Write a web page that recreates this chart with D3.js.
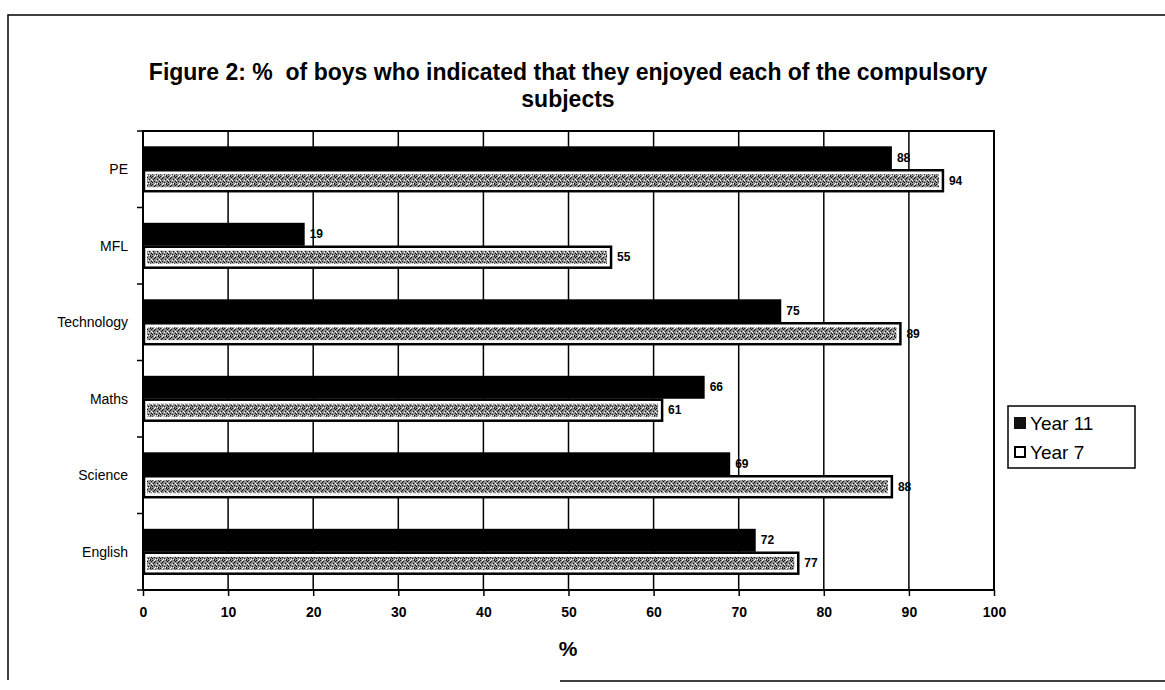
<!DOCTYPE html>
<html>
<head>
<meta charset="utf-8">
<script src="https://cdn.jsdelivr.net/npm/d3@7"></script>
<style>
  html, body { margin: 0; padding: 0; background: #fff; }
  svg { display: block; font-family: "Liberation Sans", Arial, sans-serif; }
  .title { white-space: pre; }
</style>
</head>
<body>
<svg id="chart" width="1165" height="690"></svg>
<script>
const categories = ["PE", "MFL", "Technology", "Maths", "Science", "English"];
const seriesNames = ["Year 11", "Year 7"];
const year11 = [88, 19, 75, 66, 69, 72];
const year7 = [94, 55, 89, 61, 88, 77];
const xTickValues = [0, 10, 20, 30, 40, 50, 60, 70, 80, 90, 100];
const titleLines = ["Figure 2: %  of boys who indicated that they enjoyed each of the compulsory", "subjects"];
const xAxisTitle = "%";

const svg = d3.select("#chart");
const plot = { left: 143, right: 994, top: 131, bottom: 590 };

// texture pattern for Year 7 bars
const defs = svg.append("defs");
const pat = defs.append("pattern").attr("id", "speckle").attr("patternUnits", "userSpaceOnUse")
  .attr("width", 8).attr("height", 8);
pat.append("rect").attr("width", 8).attr("height", 8).attr("fill", "#8f8f8f");
const dark = [[0,0],[3,1],[6,0],[1,3],[5,3],[2,5],[7,5],[0,6],[4,6],[6,7],[2,2],[7,1]];
const light = [[2,0],[7,3],[4,4],[0,4],[5,7],[3,7]];
dark.forEach(([x, y]) => pat.append("rect").attr("x", x).attr("y", y).attr("width", 1).attr("height", 1).attr("fill", "#111"));
light.forEach(([x, y]) => pat.append("rect").attr("x", x).attr("y", y).attr("width", 1).attr("height", 1).attr("fill", "#fff"));

// frame
svg.append("path").attr("d", `M8,680 L8,15 L1165,15`).attr("fill", "none").attr("stroke", "#000").attr("stroke-width", 1.5);
svg.append("line").attr("x1", 560).attr("x2", 1165).attr("y1", 681).attr("y2", 681).attr("stroke", "#000").attr("stroke-width", 1.5);

// title
svg.append("g").selectAll("text").data(titleLines).join("text")
  .attr("class", "title")
  .attr("x", 568).attr("y", (d, i) => 80 + i * 27)
  .attr("text-anchor", "middle")
  .attr("font-size", 23).attr("font-weight", "bold")
  .text(d => d);

const x = d3.scaleLinear().domain([0, 100]).range([plot.left, plot.right]);
const y = d3.scaleBand().domain(categories).range([plot.top, plot.bottom]).paddingInner(0.4).paddingOuter(0.2);
const yInner = d3.scaleBand().domain(seriesNames).range([0, y.bandwidth()]);
const yFull = d3.scaleBand().domain(categories).range([plot.top, plot.bottom]);

// gridlines
svg.append("g").selectAll("line").data(xTickValues.slice(1, -1)).join("line")
  .attr("x1", d => x(d)).attr("x2", d => x(d))
  .attr("y1", plot.top).attr("y2", plot.bottom)
  .attr("stroke", "#000").attr("stroke-width", 1.5);

// bars
const g = svg.append("g");
categories.forEach((c, i) => {
  const y0 = y(c);
  const y11 = y0 + yInner("Year 11");
  g.append("rect")
    .attr("x", x(0)).attr("y", y11)
    .attr("width", x(year11[i]) - x(0)).attr("height", yInner.bandwidth())
    .attr("fill", "#000");
  const yy = y0 + yInner("Year 7");
  g.append("rect")
    .attr("x", x(0) + 1).attr("y", yy + 1)
    .attr("width", x(year7[i]) - x(0) - 1).attr("height", yInner.bandwidth() - 2)
    .attr("fill", "#fff").attr("stroke", "#000").attr("stroke-width", 2.5);
  g.append("rect")
    .attr("x", x(0) + 4).attr("y", yy + 5)
    .attr("width", x(year7[i]) - x(0) - 8).attr("height", yInner.bandwidth() - 10)
    .attr("fill", "url(#speckle)");
  g.append("text").attr("x", x(year11[i]) + 5).attr("y", y11 + yInner.bandwidth() / 2)
    .attr("dy", "0.35em").attr("font-size", 12).attr("font-weight", "bold").text(year11[i]);
  g.append("text").attr("x", x(year7[i]) + 6).attr("y", yy + yInner.bandwidth() / 2)
    .attr("dy", "0.35em").attr("font-size", 12).attr("font-weight", "bold").text(year7[i]);
});

// plot border
svg.append("rect").attr("x", plot.left).attr("y", plot.top)
  .attr("width", plot.right - plot.left).attr("height", plot.bottom - plot.top)
  .attr("fill", "none").attr("stroke", "#000").attr("stroke-width", 2);

// x axis
const xAxis = svg.append("g").attr("transform", `translate(0,${plot.bottom})`)
  .call(d3.axisBottom(x).tickValues(xTickValues).tickSize(6).tickPadding(11).tickFormat(d3.format("d")));
xAxis.select(".domain").remove();
xAxis.selectAll("line").attr("stroke", "#000").attr("stroke-width", 1.5);
xAxis.selectAll("text").attr("font-size", 14).attr("font-weight", "bold").attr("fill", "#000")
  .attr("font-family", "Liberation Sans, Arial, sans-serif");

// y axis: category labels and ticks at band boundaries
const yBounds = categories.map(c => yFull(c)).concat([plot.bottom]);
svg.append("g").selectAll("line").data(yBounds).join("line")
  .attr("x1", plot.left - 6).attr("x2", plot.left)
  .attr("y1", d => d).attr("y2", d => d)
  .attr("stroke", "#000").attr("stroke-width", 1.5);
svg.append("g").selectAll("text").data(categories).join("text")
  .attr("x", plot.left - 15).attr("y", d => yFull(d) + yFull.bandwidth() / 2)
  .attr("dy", "0.35em").attr("text-anchor", "end").attr("font-size", 14)
  .text(d => d);

// x axis title
svg.append("text").attr("x", 568).attr("y", 656).attr("text-anchor", "middle")
  .attr("font-size", 21).attr("font-weight", "bold").text(xAxisTitle);

// legend
const leg = svg.append("g").attr("transform", "translate(1008,406)");
leg.append("rect").attr("width", 127).attr("height", 62).attr("fill", "#fff").attr("stroke", "#000").attr("stroke-width", 1.5);
seriesNames.forEach((s, i) => {
  const ly = 17 + i * 29;
  if (i === 0) {
    leg.append("rect").attr("x", 6).attr("y", ly - 6).attr("width", 12).attr("height", 12).attr("fill", "#111");
  } else {
    leg.append("rect").attr("x", 7).attr("y", ly - 5).attr("width", 10).attr("height", 10).attr("fill", "#fff").attr("stroke", "#000").attr("stroke-width", 2);
  }
  leg.append("text").attr("x", 22).attr("y", ly).attr("dy", "0.36em").attr("font-size", 19).text(s);
});
</script>
</body>
</html>
